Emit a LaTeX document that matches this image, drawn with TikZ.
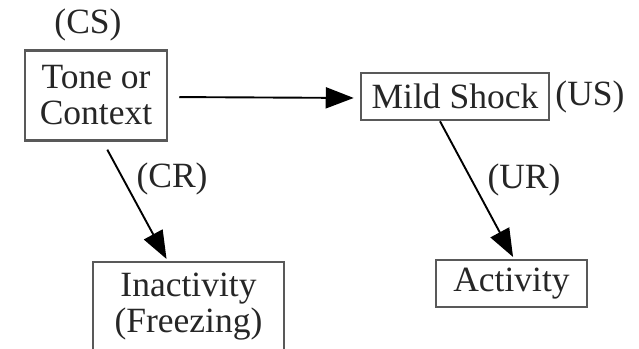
\documentclass[tikz,border=0pt]{standalone}
\usepackage{fontspec}
\setmainfont{Liberation Serif}
\usetikzlibrary{arrows.meta}
\begin{document}
\begin{tikzpicture}[x=1pt,y=-1pt,
  every node/.style={font=\fontsize{35.5}{36}\selectfont, text=black!85, inner sep=0pt},
  stim/.style={draw=black!65, line width=2.5pt, align=center},
  tag/.style={},
  arr/.style={line width=1.9pt, -{Triangle[length=28pt,width=21pt]}}]
  \useasboundingbox (0,0) rectangle (639,348);
  % stimulus and response boxes
  \node[stim, minimum width=142, minimum height=90] (tone) at (96,95.5) {Tone or\\Context};
  \node[stim, minimum width=188, minimum height=47] (shock) at (455,96.5) {Mild Shock};
  \node[stim, minimum width=191, minimum height=90] (inact) at (188.5,307) {Inactivity\\(Freezing)};
  \node[stim, minimum width=151, minimum height=47] (act) at (511.5,283.5) {Activity};
  % conditioning labels
  \node[tag] (cs) at (88,25) {(CS)};
  \node[tag] (us) at (590,97) {(US)};
  \node[tag] (cr) at (172,179) {(CR)};
  \node[tag] (ur) at (524,180) {(UR)};
  % associations
  \draw[arr, shorten <=11pt, shorten >=6pt] ([yshift=-1.5]tone.east) -- ([yshift=-1.5]shock.west);
  \draw[arr, shorten <=9pt, shorten >=2pt] ([xshift=7]tone.south) -- ([xshift=-21]inact.north);
  \draw[arr, shorten >=2pt] ([xshift=-15]shock.south) -- ([xshift=2.5]act.north);
\end{tikzpicture}
\end{document}
